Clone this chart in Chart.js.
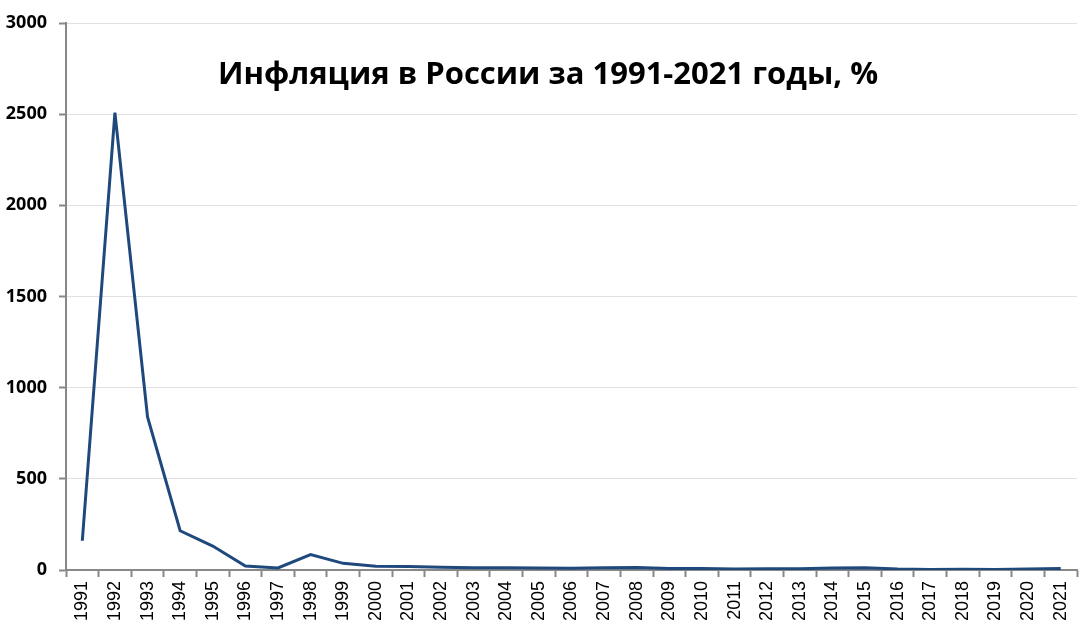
<!DOCTYPE html>
<html><head><meta charset="utf-8">
<script src="https://cdn.jsdelivr.net/npm/chart.js@4/dist/chart.umd.min.js"></script>
<style>html,body{margin:0;padding:0;background:#fff}#w{width:1079px;height:630px}</style>
</head><body><div id="w"><canvas id="c" width="1079" height="630"></canvas></div>
<script>
const years = ['1991','1992','1993','1994','1995','1996','1997','1998','1999','2000','2001','2002','2003','2004','2005','2006','2007','2008','2009','2010','2011','2012','2013','2014','2015','2016','2017','2018','2019','2020','2021'];
const inflation = [160.4,2508.8,839.9,215.1,131.3,21.8,11.0,84.4,36.5,20.2,18.6,15.1,12.0,11.7,10.9,9.0,11.9,13.3,8.8,8.8,6.1,6.6,6.5,11.4,12.9,5.4,2.5,4.3,3.0,4.9,8.4];
const titleText = 'Инфляция в России за 1991-2021 годы, %';

const titlePlugin = {
  id: 'inTitle',
  afterDraw(chart) {
    const ctx = chart.ctx;
    ctx.save();
    ctx.font = 'bold 31px "Open Sans", sans-serif';
    ctx.fillStyle = '#000';
    ctx.textAlign = 'center';
    ctx.textBaseline = 'middle';
    ctx.fillText(titleText, 548, 75);
    ctx.restore();
  }
};

new Chart(document.getElementById('c'), {
  type: 'line',
  data: { labels: years, datasets: [{ data: inflation, borderColor: '#1F497D', borderWidth: 3, pointRadius: 0, tension: 0, fill: false }] },
  options: {
    responsive: false, animation: false,
    layout: { padding: { top: 23, right: 2, left: 0, bottom: 0 } },
    plugins: { legend: { display: false }, tooltip: { enabled: false }, title: { display: false } },
    scales: {
      x: {
        offset: true,
        grid: { display: true, drawOnChartArea: false, offset: true, tickLength: 7, tickColor: '#888', tickWidth: 2 },
        border: { display: true, color: '#888', width: 2 },
        ticks: { maxRotation: 90, minRotation: 90, autoSkip: false, color: '#000', font: { family: '"Liberation Sans", Arial, sans-serif', size: 18 }, padding: 4 },
        afterFit(s) { s.height = 60; s.paddingRight = 0; s.paddingLeft = 0; }
      },
      y: {
        min: 0, max: 3000,
        ticks: { stepSize: 500, color: '#000', font: { family: '"Open Sans", sans-serif', size: 18, weight: 'bold' }, padding: 12, callback: v => String(v) },
        grid: { color: '#e0e0e0', lineWidth: 1, tickLength: 7, tickColor: '#888', tickWidth: 2 },
        border: { display: true, color: '#888', width: 2 },
        afterFit(s) { s.width = 66; }
      }
    }
  },
  plugins: [titlePlugin]
});
</script></body></html>
